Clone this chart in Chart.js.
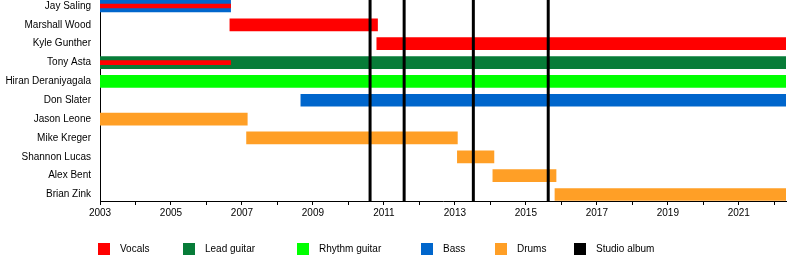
<!DOCTYPE html>
<html lang="en">
<head>
    <meta charset="UTF-8">
    <title>Band members timeline</title>
    <style>
        body {
            margin: 0;
            background: #fff;
            font-family: "Liberation Sans", Arial, sans-serif;
        }
        #wrap {
            position: relative;
            width: 800px;
            height: 260px;
        }
        .leg-box {
            position: absolute;
            top: 243px;
            width: 12px;
            height: 12px;
        }
        .leg-text {
            position: absolute;
            top: 242px;
            font-size: 10px;
            line-height: 13px;
            color: #000;
            white-space: nowrap;
        }
    </style>
</head>
<body>

<div id="wrap">
    <canvas id="timeline" width="800" height="260"></canvas>
</div>

<script src="https://cdn.jsdelivr.net/npm/chart.js"></script>
<script>
    // members, top to bottom
    const members = ['Jay Saling', 'Marshall Wood', 'Kyle Gunther', 'Tony Asta', 'Hiran Deraniyagala',
        'Don Slater', 'Jason Leone', 'Mike Kreger', 'Shannon Lucas', 'Alex Bent', 'Brian Zink'];

    const END = 2022.33;

    // [start, end] per member, null = not in that role
    const vocals = [null, [2006.66, 2010.82], [2010.8, END], null, null, null, null, null, null, null, null];
    const backingVocals = [[2003, 2006.68], null, null, [2003, 2006.68], null, null, null, null, null, null, null];
    const leadGuitar = [null, null, null, [2003, END], null, null, null, null, null, null, null];
    const rhythmGuitar = [null, null, null, null, [2003, END], null, null, null, null, null, null];
    const bass = [[2003, 2006.68], null, null, null, null, [2008.66, END], null, null, null, null, null];
    const drums = [null, null, null, null, null, null, [2003, 2007.15], [2007.13, 2013.07],
        [2013.07, 2014.1], [2014.07, 2015.85], [2015.82, END]];

    const albums = [2010.61, 2011.57, 2013.52, 2015.63];

    const legendLabels = ['Vocals', 'Lead guitar', 'Rhythm guitar', 'Bass', 'Drums', 'Studio album'];

    const colors = {
        vocals: '#ff0000',
        lead: '#077c38',
        rhythm: '#00ff00',
        bass: '#0066cc',
        drums: '#ff9f26',
        album: '#000000'
    };
    const legendColors = [colors.vocals, colors.lead, colors.rhythm, colors.bass, colors.drums, colors.album];
    const legendX = [98, 183, 297, 421, 495, 574]; // box left edges

    function toPoints(arr) {
        return arr.map((r, i) => r ? { x: r, y: i } : null).filter(Boolean);
    }

    function barSet(label, arr, color, thickness, order) {
        return {
            label: label,
            data: toPoints(arr),
            backgroundColor: color,
            barThickness: thickness,
            grouped: false,
            borderWidth: 0,
            order: order
        };
    }

    // vertical lines for the studio albums, drawn over the bars
    const albumLines = {
        id: 'albumLines',
        afterDatasetsDraw(chart) {
            const ctx = chart.ctx;
            const x = chart.scales.x;
            const area = chart.chartArea;
            ctx.save();
            ctx.strokeStyle = colors.album;
            ctx.lineWidth = 3;
            albums.forEach(a => {
                const px = x.getPixelForValue(a);
                ctx.beginPath();
                ctx.moveTo(px, area.top);
                ctx.lineTo(px, area.bottom);
                ctx.stroke();
            });
            ctx.restore();
        }
    };

    Chart.defaults.font.family = '"Liberation Sans", Arial, sans-serif';
    Chart.defaults.font.size = 10;
    Chart.defaults.color = '#000';

    new Chart(document.getElementById('timeline'), {
        type: 'bar',
        data: {
            datasets: [
                barSet('Backing vocals', backingVocals, colors.vocals, 4, 0),
                barSet('Vocals', vocals, colors.vocals, 12, 1),
                barSet('Lead guitar', leadGuitar, colors.lead, 12, 1),
                barSet('Rhythm guitar', rhythmGuitar, colors.rhythm, 12, 1),
                barSet('Bass', bass, colors.bass, 12, 1),
                barSet('Drums', drums, colors.drums, 12, 1)
            ]
        },
        options: {
            indexAxis: 'y',
            responsive: false,
            animation: false,
            layout: { padding: { top: 0, right: 14, left: 0, bottom: 0 } },
            scales: {
                x: {
                    type: 'linear',
                    min: 2003,
                    max: END,
                    offset: false,
                    afterFit: s => {
                        s.height = 59;
                        s.paddingLeft = 0;
                        s.paddingRight = 0;
                    },
                    afterBuildTicks: s => {
                        const t = [];
                        for (let y = 2003; y <= 2022; y++) t.push({ value: y });
                        s.ticks = t;
                    },
                    ticks: {
                        autoSkip: false,
                        maxRotation: 0,
                        padding: 2,
                        callback: v => ((v - 2003) % 2 === 0 ? String(v) : '')
                    },
                    grid: {
                        offset: false,
                        drawOnChartArea: false,
                        drawTicks: true,
                        tickLength: 4,
                        color: '#000'
                    },
                    border: { display: true, color: '#000', width: 1 }
                },
                y: {
                    type: 'linear',
                    reverse: true,
                    min: -0.3183,
                    max: 10.345,
                    offset: false,
                    afterFit: s => {
                        s.width = 100;
                        s.paddingTop = 0;
                        s.paddingBottom = 0;
                    },
                    afterBuildTicks: s => {
                        s.ticks = members.map((_, i) => ({ value: i }));
                    },
                    ticks: {
                        autoSkip: false,
                        padding: 9,
                        callback: v => members[v]
                    },
                    grid: { display: false, drawTicks: false, offset: false },
                    border: { display: true, color: '#000', width: 1 }
                }
            },
            plugins: {
                legend: { display: false },
                tooltip: { enabled: false }
            }
        },
        plugins: [albumLines]
    });

    // legend under the chart
    const wrap = document.getElementById('wrap');
    legendLabels.forEach((name, i) => {
        const box = document.createElement('div');
        box.className = 'leg-box';
        box.style.left = legendX[i] + 'px';
        box.style.background = legendColors[i];
        wrap.appendChild(box);

        const txt = document.createElement('div');
        txt.className = 'leg-text';
        txt.style.left = (legendX[i] + 22) + 'px';
        txt.textContent = name;
        wrap.appendChild(txt);
    });
</script>

</body>
</html>
